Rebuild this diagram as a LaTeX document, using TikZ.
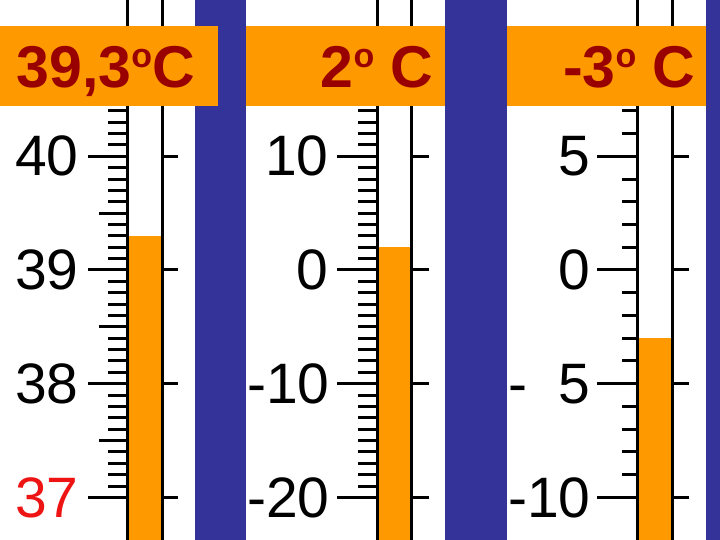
\documentclass[tikz,border=0pt]{standalone}
\usepackage{fontspec}
\setmainfont{Liberation Sans}
\definecolor{o}{RGB}{255,153,0}
\definecolor{b}{RGB}{51,51,153}
\definecolor{dr}{RGB}{153,0,0}
\definecolor{r}{RGB}{238,20,20}
\newcommand{\dg}{\raisebox{20pt}{\fontsize{34}{34}\selectfont o}}
\begin{document}
\begin{tikzpicture}[x=1pt,y=1pt,line width=3pt,every node/.style={inner sep=0pt,font=\fontsize{57}{57}\selectfont},
  head/.style={font=\fontsize{59}{59}\selectfont\bfseries,text=dr}]
\useasboundingbox (0,0) rectangle (720,540);
\fill[b] (195,0) rectangle (246,540);\fill[b] (445,0) rectangle (507,540);\fill[b] (706,0) rectangle (720,540);
% mercury
\fill[o] (127,0) rectangle (162,304.1);\fill[o] (377,0) rectangle (411,292.7);\fill[o] (637,0) rectangle (672,201.8);
% tubes
\draw (127,0)--(127,540);\draw (162,0)--(162,540);
\draw (377,0)--(377,540);\draw (411,0)--(411,540);
\draw (637,0)--(637,540);\draw (672,0)--(672,540);
% thermometer 1: 37 .. 40
\begin{scope}[shift={(0,270)},y=113.7pt]
\foreach \i in {-19,...,14} \draw (108,\i/10)--(127,\i/10);
\foreach \i in {-1.5,-.5,.5} \draw (99,\i)--(127,\i);
\foreach \i in {-2,...,1} {\draw (88,\i)--(127,\i);\draw (162,\i)--(178,\i);}
\node[anchor=east] (a40) at (80,1){40};\node[anchor=east] (a39) at (80,0){39};
\node[anchor=east] (a38) at (80,-1){38};\node[anchor=east,text=r] (a37) at (80,-2){37};
\end{scope}
% thermometer 2: -20 .. 10
\begin{scope}[shift={(0,270)},y=11.37pt]
\foreach \i in {-19,...,14} \draw (358,\i)--(377,\i);
\foreach \i in {-20,-10,0,10} {\draw (337,\i)--(377,\i);\draw (411,\i)--(429,\i);}
\node[anchor=east] (b10) at (330,10){10};\node[anchor=east] (b0) at (330,0){0};
\node[anchor=east] (bm10) at (331,-10){-10};\node[anchor=east] (bm20) at (331,-20){-20};
\end{scope}
% thermometer 3: -10 .. 5
\begin{scope}[shift={(0,270)},y=22.74pt]
\foreach \i in {-9,...,7} \draw (622,\i)--(637,\i);
\foreach \i in {-10,-5,0,5} {\draw (597,\i)--(637,\i);\draw (672,\i)--(689,\i);}
\node[anchor=east] (c5) at (592,5){5};\node[anchor=east] (c0) at (592,0){0};
\node[anchor=east] (cm5) at (592,-5){- \ 5};\node[anchor=east] (cm10) at (592,-10){-10};
\end{scope}
% headers
\fill[o] (0,434) rectangle (218,514);\fill[o] (246,434) rectangle (445,514);\fill[o] (507,434) rectangle (706,514);
\node[head,anchor=base west] (h1) at (15,452){39,3\dg C};
\node[head,anchor=base east] (h2) at (435,452){2\dg{} C};
\node[head,anchor=base east] (h3) at (697,452){-3\dg{} C};
\end{tikzpicture}
\end{document}
